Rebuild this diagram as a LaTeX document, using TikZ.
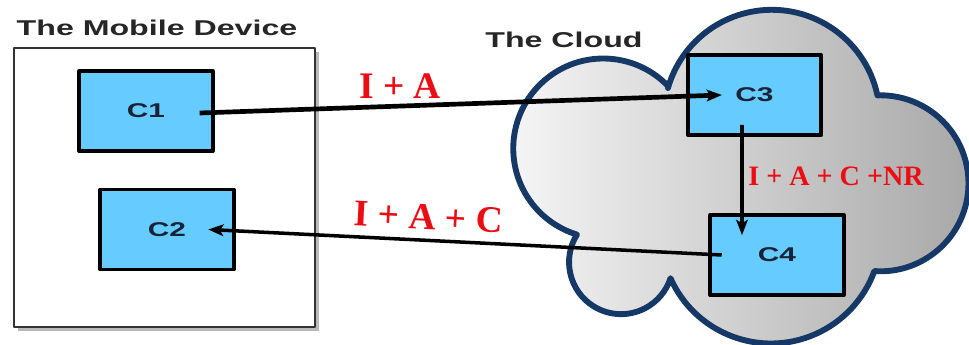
\documentclass[tikz,border=0pt]{standalone}
\usepackage{fontspec}
\setmainfont{Liberation Serif}
\newfontfamily\headfont{Liberation Sans}[FakeStretch=1.5]
\usetikzlibrary{arrows.meta}
\definecolor{boxblue}{RGB}{102,204,255}
\definecolor{cloudblue}{RGB}{22,56,102}
\definecolor{labelred}{RGB}{236,12,20}
\definecolor{textnavy}{RGB}{25,35,55}

\begin{document}
\begin{tikzpicture}[x=0.03cm,y=0.03cm,line join=round,
    comp/.style={draw,line width=3.3pt,fill=boxblue,minimum width=4cm,minimum height=2.4cm,
      text=textnavy,font=\headfont\bfseries\fontsize{17}{20}\selectfont},
    title/.style={text=black!85,font=\headfont\bfseries\fontsize{18.3}{22}\selectfont},
    lbl/.style={text=labelred,font=\bfseries\fontsize{32}{36}\selectfont},
    flow/.style={-{Stealth[length=13pt,width=10pt,inset=3pt]},line width=3pt}]

      \useasboundingbox (0,0) rectangle (969,345);

      \draw[line width=5pt,draw=cloudblue,left color=white!93!gray,right color=gray!68]
        (668,259) arc[start angle=44,end angle=253,radius=90]
        arc[start angle=148,end angle=342,radius=52]
        arc[start angle=204,end angle=340,radius=110]
        arc[start angle=266,end angle=452,radius=88]
        arc[start angle=12,end angle=164,radius=108] -- cycle;

      \fill[gray!55] (18,14) rectangle (319,293);
      \draw[line width=2pt,draw=black!80,fill=white] (14,18) rectangle (315,297);

      \path (157,316.7) node[title] (mobile) {The Mobile Device};
      \path (564,305) node[title] (cloud) {The Cloud};

      \path (146,234) node[comp] (c1) {C1};
      \path (167,115.5) node[comp] (c2) {C2};
      \path (754.5,250) node[comp] (c3) {C3};
      \path (777,90) node[comp] (c4) {C4};

      \draw[flow,line width=4pt] ([xshift=-0.45cm,yshift=-0.06cm]c1.east) -- ([xshift=1.08cm]c3.west);
      \draw[flow] ([xshift=-0.375cm,yshift=0.36cm]c3.south) -- ([xshift=-1.05cm,yshift=-0.66cm]c4.north);
      \draw[flow] ([xshift=0.4cm]c4.west) -- ([xshift=-0.82cm]c2.east);

      \path (400,258.5) node[lbl] (ia) {I + A};
      \path (428.5,128) node[lbl,rotate=-3] (iac) {I + A + C};
      \path (836,169) node[lbl,font=\bfseries\fontsize{24}{28}\selectfont] (iacnr) {I + A + C +NR};
   \end{tikzpicture}
\end{document}
